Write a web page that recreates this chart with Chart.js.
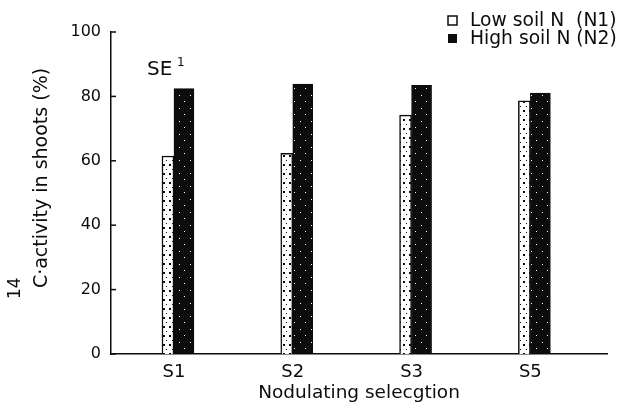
<!DOCTYPE html>
<html>
<head>
<meta charset="utf-8">
<script src="https://cdn.jsdelivr.net/npm/chart.js@4.4.0/dist/chart.umd.min.js"></script>
<style>
  html, body { margin: 0; padding: 0; background: #fff; }
  #wrap { width: 628px; height: 410px; }
</style>
</head>
<body>
<div id="wrap"><canvas id="chart" width="628" height="410"></canvas></div>
<script>
// Datos
const categories = ['S1', 'S2', 'S3', 'S5'];
const lowSoilN = [61.5, 62.3, 74.2, 78.6];
const highSoilN = [82.4, 83.8, 83.4, 81.0];
const seriesLabels = ['Low soil N  (N1)', 'High soil N (N2)'];
const yTicks = [0, 20, 40, 60, 80, 100];
const xTitle = 'Nodulating selecgtion';
const yTitleIso = '14';
const yTitleMain = 'C·activity in shoots (%)';
const seNote = 'SE';
const seSup = '1';

const INK = '#0c0c0c';
const FONT = '"DejaVu Sans", sans-serif';

// Tramas de relleno (punteado blanco / negro moteado)
function makePattern(w, h, bg, fg, dots) {
    const c = document.createElement('canvas');
    c.width = w; c.height = h;
    const g = c.getContext('2d');
    g.fillStyle = bg; g.fillRect(0, 0, w, h);
    g.fillStyle = fg;
    dots.forEach(d => g.fillRect(d[0], d[1], d[2], d[3]));
    return g.createPattern(c, 'repeat');
}
const ctx = document.getElementById('chart').getContext('2d');
const lowFill = makePattern(6, 9, '#fff', INK, [[1, 2, 2, 2], [4, 7, 1, 1]]);
const highFill = makePattern(11, 13, INK, '#fff', [[3, 4, 1, 1], [8, 10, 1, 1]]);

// Plugin: título del eje Y, marcas interiores, nota SE y leyenda
const decoPlugin = {
    id: 'deco',
    afterDraw(chart) {
        const c = chart.ctx;
        const y = chart.scales.y;
        const area = chart.chartArea;
        c.save();
        // marcas del eje Y hacia dentro
        c.strokeStyle = INK; c.lineWidth = 1.5;
        y.ticks.forEach(t => {
            const py = y.getPixelForValue(t.value);
            c.beginPath(); c.moveTo(area.left, py); c.lineTo(area.left + 5, py); c.stroke();
        });
        c.fillStyle = INK;
        // título Y rotado con superíndice 14
        c.save();
        c.translate(47, 178);
        c.rotate(-Math.PI / 2);
        c.textBaseline = 'alphabetic';
        c.font = '19px ' + FONT;
        const w = c.measureText(yTitleMain).width;
        c.textAlign = 'center';
        c.fillText(yTitleMain, 0, 0);
        c.font = '17px ' + FONT;
        c.textAlign = 'left';
        c.fillText(yTitleIso, -w / 2 - 11, -27);
        c.restore();
        // nota SE
        c.textAlign = 'left'; c.textBaseline = 'alphabetic';
        c.font = '20px ' + FONT;
        c.fillText(seNote, 147, 75);
        c.font = '12px ' + FONT;
        c.fillText(seSup, 177, 66);
        // leyenda
        c.font = '18.7px ' + FONT;
        c.textBaseline = 'middle';
        chart.data.datasets.forEach((ds, i) => {
            const ry = 21 + i * 18;
            if (i === 0) {
                c.fillStyle = '#fff'; c.fillRect(448, ry - 5, 9, 9);
                c.strokeStyle = INK; c.lineWidth = 1.5; c.strokeRect(448, ry - 5, 9, 9);
            } else {
                c.fillStyle = INK; c.fillRect(448, ry - 5, 9, 9);
            }
            c.fillStyle = INK;
            c.fillText(ds.label, 470, ry);
        });
        c.restore();
    }
};

new Chart(ctx, {
    type: 'bar',
    data: {
        datasets: [
            {
                label: seriesLabels[0],
                data: lowSoilN.map((v, i) => ({ x: i + 1, y: v })),
                backgroundColor: lowFill,
                borderColor: INK,
                borderWidth: 1.5,
                barThickness: 12
            },
            {
                label: seriesLabels[1],
                data: highSoilN.map((v, i) => ({ x: i + 1, y: v })),
                backgroundColor: highFill,
                borderColor: INK,
                borderWidth: 1,
                barThickness: 20
            }
        ]
    },
    options: {
        responsive: false,
        animation: false,
        devicePixelRatio: 1,
        layout: { padding: { top: 32, right: 21, left: 0, bottom: 0 } },
        plugins: { legend: { display: false }, tooltip: { enabled: false } },
        scales: {
            x: {
                type: 'linear',
                offset: false,
                min: 0.47,
                max: 4.645,
                afterBuildTicks: s => { s.ticks = categories.map((c, i) => ({ value: i + 1 })); },
                afterFit: s => { s.height = 56; },
                grid: { display: false, offset: false },
                border: { color: INK, width: 1.5 },
                ticks: {
                    callback: v => categories[v - 1] || '',
                    color: INK,
                    font: { family: FONT, size: 18 },
                    padding: 0,
                    maxRotation: 0,
                    autoSkip: false
                },
                title: {
                    display: true,
                    text: xTitle,
                    color: INK,
                    font: { family: FONT, size: 18.5 },
                    padding: { top: 0, bottom: 6 }
                }
            },
            y: {
                min: 0,
                max: 100,
                afterBuildTicks: s => { s.ticks = yTicks.map(v => ({ value: v })); },
                afterFit: s => { s.width = 111; },
                grid: { display: false },
                border: { color: INK, width: 1.5 },
                ticks: {
                    color: INK,
                    font: { family: FONT, size: 16 },
                    padding: 2
                }
            }
        }
    },
    plugins: [decoPlugin]
});
</script>
</body>
</html>
